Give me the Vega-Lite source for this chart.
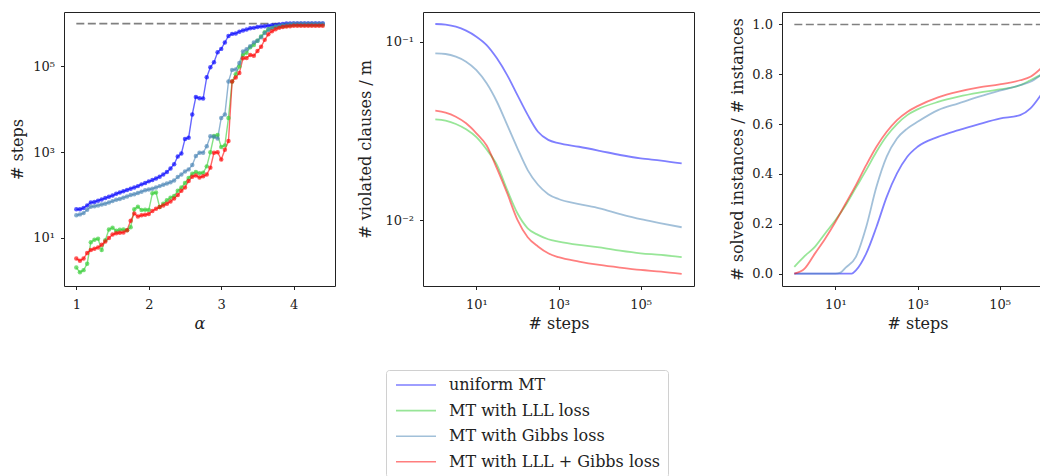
{
"$schema": "https://vega.github.io/schema/vega-lite/v6.json",
"padding": {"left": 8, "top": 11, "right": 0, "bottom": 0},
"bounds": "flush",
"spacing": 88,
"config": {
  "font": "DejaVu Serif",
  "view": {"stroke": "#222", "strokeWidth": 1},
  "axis": {"grid": false, "domain": false, "tickColor": "#222", "tickSize": 3.5, "tickWidth": 1, "labelFont": "DejaVu Serif", "labelFontSize": 13, "labelColor": "#222", "titleFont": "DejaVu Serif", "titleFontSize": 16, "titleFontWeight": "normal", "titleColor": "#222"},
  "axisX": {"labelPadding": 9, "titlePadding": 4},
  "axisY": {"labelPadding": 6},
  "legend": {"symbolType": "M-4,0H4", "symbolStrokeWidth": 1.6, "symbolOpacity": 0.5, "symbolSize": 100, "symbolOffset": 15, "labelFont": "DejaVu Serif", "labelFontSize": 16, "labelColor": "#222", "labelOffset": 25, "labelLimit": 400, "rowPadding": 9.6, "padding": 7, "strokeColor": "#d0d0d0", "cornerRadius": 3, "fillColor": "white"}
},
"datasets": {
  "cap1": [{"a": 1, "a2": 4.4, "v": 1000000}],
  "cap3": [{"x": 1, "x2": 1000000, "v": 1.0}],
  "p1": [
{"m":"uniform MT","a":1.00,"v":46.8},{"m":"uniform MT","a":1.05,"v":46.8},{"m":"uniform MT","a":1.10,"v":50.1},{"m":"uniform MT","a":1.15,"v":57.5},{"m":"uniform MT","a":1.20,"v":67.6},{"m":"uniform MT","a":1.25,"v":69.2},{"m":"uniform MT","a":1.30,"v":74.1},{"m":"uniform MT","a":1.35,"v":79.4},{"m":"uniform MT","a":1.40,"v":85.1},{"m":"uniform MT","a":1.45,"v":91.2},{"m":"uniform MT","a":1.50,"v":97.7},{"m":"uniform MT","a":1.55,"v":107},{"m":"uniform MT","a":1.60,"v":115},{"m":"uniform MT","a":1.65,"v":123},{"m":"uniform MT","a":1.70,"v":132},{"m":"uniform MT","a":1.75,"v":141},{"m":"uniform MT","a":1.80,"v":151},{"m":"uniform MT","a":1.85,"v":162},{"m":"uniform MT","a":1.90,"v":178},{"m":"uniform MT","a":1.95,"v":191},{"m":"uniform MT","a":2.00,"v":209},{"m":"uniform MT","a":2.05,"v":224},{"m":"uniform MT","a":2.10,"v":245},{"m":"uniform MT","a":2.15,"v":269},{"m":"uniform MT","a":2.20,"v":302},{"m":"uniform MT","a":2.25,"v":347},{"m":"uniform MT","a":2.30,"v":417},{"m":"uniform MT","a":2.35,"v":525},{"m":"uniform MT","a":2.40,"v":794},{"m":"uniform MT","a":2.45,"v":933},{"m":"uniform MT","a":2.50,"v":2042},{"m":"uniform MT","a":2.55,"v":2188},{"m":"uniform MT","a":2.60,"v":7586},{"m":"uniform MT","a":2.65,"v":19500},{"m":"uniform MT","a":2.70,"v":18200},{"m":"uniform MT","a":2.75,"v":17800},{"m":"uniform MT","a":2.80,"v":56200},{"m":"uniform MT","a":2.85,"v":95500},{"m":"uniform MT","a":2.90,"v":126000},{"m":"uniform MT","a":2.95,"v":214000},{"m":"uniform MT","a":3.00,"v":257000},{"m":"uniform MT","a":3.05,"v":363000},{"m":"uniform MT","a":3.10,"v":513000},{"m":"uniform MT","a":3.15,"v":575000},{"m":"uniform MT","a":3.20,"v":589000},{"m":"uniform MT","a":3.25,"v":646000},{"m":"uniform MT","a":3.30,"v":692000},{"m":"uniform MT","a":3.35,"v":724000},{"m":"uniform MT","a":3.40,"v":776000},{"m":"uniform MT","a":3.45,"v":794000},{"m":"uniform MT","a":3.50,"v":832000},{"m":"uniform MT","a":3.55,"v":851000},{"m":"uniform MT","a":3.60,"v":871000},{"m":"uniform MT","a":3.65,"v":891000},{"m":"uniform MT","a":3.70,"v":912000},{"m":"uniform MT","a":3.75,"v":933000},{"m":"uniform MT","a":3.80,"v":955000},{"m":"uniform MT","a":3.85,"v":977000},{"m":"uniform MT","a":3.90,"v":1000000},{"m":"uniform MT","a":3.95,"v":1000000},{"m":"uniform MT","a":4.00,"v":1000000},{"m":"uniform MT","a":4.05,"v":1000000},{"m":"uniform MT","a":4.10,"v":1000000},{"m":"uniform MT","a":4.15,"v":1000000},{"m":"uniform MT","a":4.20,"v":1000000},{"m":"uniform MT","a":4.25,"v":1000000},{"m":"uniform MT","a":4.30,"v":1000000},{"m":"uniform MT","a":4.35,"v":1000000},{"m":"uniform MT","a":4.40,"v":1000000},
{"m":"MT with LLL loss","a":1.00,"v":2.04},{"m":"MT with LLL loss","a":1.05,"v":1.58},{"m":"MT with LLL loss","a":1.10,"v":1.78},{"m":"MT with LLL loss","a":1.15,"v":2.51},{"m":"MT with LLL loss","a":1.20,"v":7.94},{"m":"MT with LLL loss","a":1.25,"v":9.12},{"m":"MT with LLL loss","a":1.30,"v":9.55},{"m":"MT with LLL loss","a":1.35,"v":5.25},{"m":"MT with LLL loss","a":1.40,"v":8.91},{"m":"MT with LLL loss","a":1.45,"v":15.8},{"m":"MT with LLL loss","a":1.50,"v":17.4},{"m":"MT with LLL loss","a":1.55,"v":14.8},{"m":"MT with LLL loss","a":1.60,"v":15.5},{"m":"MT with LLL loss","a":1.65,"v":15.8},{"m":"MT with LLL loss","a":1.70,"v":15.1},{"m":"MT with LLL loss","a":1.75,"v":17.8},{"m":"MT with LLL loss","a":1.80,"v":46.8},{"m":"MT with LLL loss","a":1.85,"v":53.7},{"m":"MT with LLL loss","a":1.90,"v":44.7},{"m":"MT with LLL loss","a":1.95,"v":45.7},{"m":"MT with LLL loss","a":2.00,"v":44.7},{"m":"MT with LLL loss","a":2.05,"v":110},{"m":"MT with LLL loss","a":2.10,"v":115},{"m":"MT with LLL loss","a":2.15,"v":52.5},{"m":"MT with LLL loss","a":2.20,"v":63.1},{"m":"MT with LLL loss","a":2.25,"v":75.9},{"m":"MT with LLL loss","a":2.30,"v":87.1},{"m":"MT with LLL loss","a":2.35,"v":95.5},{"m":"MT with LLL loss","a":2.40,"v":126},{"m":"MT with LLL loss","a":2.45,"v":151},{"m":"MT with LLL loss","a":2.50,"v":191},{"m":"MT with LLL loss","a":2.55,"v":251},{"m":"MT with LLL loss","a":2.60,"v":316},{"m":"MT with LLL loss","a":2.65,"v":347},{"m":"MT with LLL loss","a":2.70,"v":324},{"m":"MT with LLL loss","a":2.75,"v":331},{"m":"MT with LLL loss","a":2.80,"v":468},{"m":"MT with LLL loss","a":2.85,"v":1000},{"m":"MT with LLL loss","a":2.90,"v":2399},{"m":"MT with LLL loss","a":2.95,"v":2512},{"m":"MT with LLL loss","a":3.00,"v":1318},{"m":"MT with LLL loss","a":3.05,"v":1445},{"m":"MT with LLL loss","a":3.10,"v":6310},{"m":"MT with LLL loss","a":3.15,"v":44700},{"m":"MT with LLL loss","a":3.20,"v":66100},{"m":"MT with LLL loss","a":3.25,"v":100000},{"m":"MT with LLL loss","a":3.30,"v":186000},{"m":"MT with LLL loss","a":3.35,"v":209000},{"m":"MT with LLL loss","a":3.40,"v":282000},{"m":"MT with LLL loss","a":3.45,"v":316000},{"m":"MT with LLL loss","a":3.50,"v":398000},{"m":"MT with LLL loss","a":3.55,"v":501000},{"m":"MT with LLL loss","a":3.60,"v":631000},{"m":"MT with LLL loss","a":3.65,"v":741000},{"m":"MT with LLL loss","a":3.70,"v":794000},{"m":"MT with LLL loss","a":3.75,"v":832000},{"m":"MT with LLL loss","a":3.80,"v":851000},{"m":"MT with LLL loss","a":3.85,"v":871000},{"m":"MT with LLL loss","a":3.90,"v":891000},{"m":"MT with LLL loss","a":3.95,"v":912000},{"m":"MT with LLL loss","a":4.00,"v":933000},{"m":"MT with LLL loss","a":4.05,"v":933000},{"m":"MT with LLL loss","a":4.10,"v":933000},{"m":"MT with LLL loss","a":4.15,"v":933000},{"m":"MT with LLL loss","a":4.20,"v":933000},{"m":"MT with LLL loss","a":4.25,"v":933000},{"m":"MT with LLL loss","a":4.30,"v":933000},{"m":"MT with LLL loss","a":4.35,"v":933000},{"m":"MT with LLL loss","a":4.40,"v":933000},
{"m":"MT with Gibbs loss","a":1.00,"v":33.9},{"m":"MT with Gibbs loss","a":1.05,"v":35.5},{"m":"MT with Gibbs loss","a":1.10,"v":38.0},{"m":"MT with Gibbs loss","a":1.15,"v":45.7},{"m":"MT with Gibbs loss","a":1.20,"v":53.7},{"m":"MT with Gibbs loss","a":1.25,"v":55.0},{"m":"MT with Gibbs loss","a":1.30,"v":57.5},{"m":"MT with Gibbs loss","a":1.35,"v":60.3},{"m":"MT with Gibbs loss","a":1.40,"v":63.1},{"m":"MT with Gibbs loss","a":1.45,"v":67.6},{"m":"MT with Gibbs loss","a":1.50,"v":72.4},{"m":"MT with Gibbs loss","a":1.55,"v":77.6},{"m":"MT with Gibbs loss","a":1.60,"v":81.3},{"m":"MT with Gibbs loss","a":1.65,"v":87.1},{"m":"MT with Gibbs loss","a":1.70,"v":93.3},{"m":"MT with Gibbs loss","a":1.75,"v":100},{"m":"MT with Gibbs loss","a":1.80,"v":105},{"m":"MT with Gibbs loss","a":1.85,"v":112},{"m":"MT with Gibbs loss","a":1.90,"v":120},{"m":"MT with Gibbs loss","a":1.95,"v":129},{"m":"MT with Gibbs loss","a":2.00,"v":135},{"m":"MT with Gibbs loss","a":2.05,"v":141},{"m":"MT with Gibbs loss","a":2.10,"v":151},{"m":"MT with Gibbs loss","a":2.15,"v":162},{"m":"MT with Gibbs loss","a":2.20,"v":174},{"m":"MT with Gibbs loss","a":2.25,"v":186},{"m":"MT with Gibbs loss","a":2.30,"v":200},{"m":"MT with Gibbs loss","a":2.35,"v":219},{"m":"MT with Gibbs loss","a":2.40,"v":263},{"m":"MT with Gibbs loss","a":2.45,"v":302},{"m":"MT with Gibbs loss","a":2.50,"v":355},{"m":"MT with Gibbs loss","a":2.55,"v":398},{"m":"MT with Gibbs loss","a":2.60,"v":501},{"m":"MT with Gibbs loss","a":2.65,"v":813},{"m":"MT with Gibbs loss","a":2.70,"v":977},{"m":"MT with Gibbs loss","a":2.75,"v":977},{"m":"MT with Gibbs loss","a":2.80,"v":1380},{"m":"MT with Gibbs loss","a":2.85,"v":2344},{"m":"MT with Gibbs loss","a":2.90,"v":2291},{"m":"MT with Gibbs loss","a":2.95,"v":2089},{"m":"MT with Gibbs loss","a":3.00,"v":6310},{"m":"MT with Gibbs loss","a":3.05,"v":7586},{"m":"MT with Gibbs loss","a":3.10,"v":44700},{"m":"MT with Gibbs loss","a":3.15,"v":83200},{"m":"MT with Gibbs loss","a":3.20,"v":85100},{"m":"MT with Gibbs loss","a":3.25,"v":120000},{"m":"MT with Gibbs loss","a":3.30,"v":224000},{"m":"MT with Gibbs loss","a":3.35,"v":251000},{"m":"MT with Gibbs loss","a":3.40,"v":295000},{"m":"MT with Gibbs loss","a":3.45,"v":363000},{"m":"MT with Gibbs loss","a":3.50,"v":398000},{"m":"MT with Gibbs loss","a":3.55,"v":479000},{"m":"MT with Gibbs loss","a":3.60,"v":603000},{"m":"MT with Gibbs loss","a":3.65,"v":708000},{"m":"MT with Gibbs loss","a":3.70,"v":794000},{"m":"MT with Gibbs loss","a":3.75,"v":851000},{"m":"MT with Gibbs loss","a":3.80,"v":891000},{"m":"MT with Gibbs loss","a":3.85,"v":933000},{"m":"MT with Gibbs loss","a":3.90,"v":955000},{"m":"MT with Gibbs loss","a":3.95,"v":977000},{"m":"MT with Gibbs loss","a":4.00,"v":1000000},{"m":"MT with Gibbs loss","a":4.05,"v":1000000},{"m":"MT with Gibbs loss","a":4.10,"v":1000000},{"m":"MT with Gibbs loss","a":4.15,"v":1000000},{"m":"MT with Gibbs loss","a":4.20,"v":1000000},{"m":"MT with Gibbs loss","a":4.25,"v":1000000},{"m":"MT with Gibbs loss","a":4.30,"v":1000000},{"m":"MT with Gibbs loss","a":4.35,"v":1000000},{"m":"MT with Gibbs loss","a":4.40,"v":1000000},
{"m":"MT with LLL + Gibbs loss","a":1.00,"v":3.31},{"m":"MT with LLL + Gibbs loss","a":1.05,"v":2.95},{"m":"MT with LLL + Gibbs loss","a":1.10,"v":3.31},{"m":"MT with LLL + Gibbs loss","a":1.15,"v":4.47},{"m":"MT with LLL + Gibbs loss","a":1.20,"v":5.25},{"m":"MT with LLL + Gibbs loss","a":1.25,"v":5.62},{"m":"MT with LLL + Gibbs loss","a":1.30,"v":6.03},{"m":"MT with LLL + Gibbs loss","a":1.35,"v":6.92},{"m":"MT with LLL + Gibbs loss","a":1.40,"v":8.32},{"m":"MT with LLL + Gibbs loss","a":1.45,"v":10.0},{"m":"MT with LLL + Gibbs loss","a":1.50,"v":12.0},{"m":"MT with LLL + Gibbs loss","a":1.55,"v":12.9},{"m":"MT with LLL + Gibbs loss","a":1.60,"v":13.2},{"m":"MT with LLL + Gibbs loss","a":1.65,"v":13.5},{"m":"MT with LLL + Gibbs loss","a":1.70,"v":15.1},{"m":"MT with LLL + Gibbs loss","a":1.75,"v":25.1},{"m":"MT with LLL + Gibbs loss","a":1.80,"v":37.2},{"m":"MT with LLL + Gibbs loss","a":1.85,"v":31.6},{"m":"MT with LLL + Gibbs loss","a":1.90,"v":33.9},{"m":"MT with LLL + Gibbs loss","a":1.95,"v":34.7},{"m":"MT with LLL + Gibbs loss","a":2.00,"v":36.3},{"m":"MT with LLL + Gibbs loss","a":2.05,"v":42.7},{"m":"MT with LLL + Gibbs loss","a":2.10,"v":47.9},{"m":"MT with LLL + Gibbs loss","a":2.15,"v":52.5},{"m":"MT with LLL + Gibbs loss","a":2.20,"v":57.5},{"m":"MT with LLL + Gibbs loss","a":2.25,"v":63.1},{"m":"MT with LLL + Gibbs loss","a":2.30,"v":70.8},{"m":"MT with LLL + Gibbs loss","a":2.35,"v":83.2},{"m":"MT with LLL + Gibbs loss","a":2.40,"v":100},{"m":"MT with LLL + Gibbs loss","a":2.45,"v":126},{"m":"MT with LLL + Gibbs loss","a":2.50,"v":151},{"m":"MT with LLL + Gibbs loss","a":2.55,"v":214},{"m":"MT with LLL + Gibbs loss","a":2.60,"v":269},{"m":"MT with LLL + Gibbs loss","a":2.65,"v":288},{"m":"MT with LLL + Gibbs loss","a":2.70,"v":257},{"m":"MT with LLL + Gibbs loss","a":2.75,"v":275},{"m":"MT with LLL + Gibbs loss","a":2.80,"v":302},{"m":"MT with LLL + Gibbs loss","a":2.85,"v":437},{"m":"MT with LLL + Gibbs loss","a":2.90,"v":977},{"m":"MT with LLL + Gibbs loss","a":2.95,"v":1000},{"m":"MT with LLL + Gibbs loss","a":3.00,"v":676},{"m":"MT with LLL + Gibbs loss","a":3.05,"v":1148},{"m":"MT with LLL + Gibbs loss","a":3.10,"v":1820},{"m":"MT with LLL + Gibbs loss","a":3.15,"v":44700},{"m":"MT with LLL + Gibbs loss","a":3.20,"v":55000},{"m":"MT with LLL + Gibbs loss","a":3.25,"v":70800},{"m":"MT with LLL + Gibbs loss","a":3.30,"v":155000},{"m":"MT with LLL + Gibbs loss","a":3.35,"v":158000},{"m":"MT with LLL + Gibbs loss","a":3.40,"v":186000},{"m":"MT with LLL + Gibbs loss","a":3.45,"v":178000},{"m":"MT with LLL + Gibbs loss","a":3.50,"v":229000},{"m":"MT with LLL + Gibbs loss","a":3.55,"v":288000},{"m":"MT with LLL + Gibbs loss","a":3.60,"v":417000},{"m":"MT with LLL + Gibbs loss","a":3.65,"v":562000},{"m":"MT with LLL + Gibbs loss","a":3.70,"v":661000},{"m":"MT with LLL + Gibbs loss","a":3.75,"v":741000},{"m":"MT with LLL + Gibbs loss","a":3.80,"v":794000},{"m":"MT with LLL + Gibbs loss","a":3.85,"v":832000},{"m":"MT with LLL + Gibbs loss","a":3.90,"v":851000},{"m":"MT with LLL + Gibbs loss","a":3.95,"v":871000},{"m":"MT with LLL + Gibbs loss","a":4.00,"v":891000},{"m":"MT with LLL + Gibbs loss","a":4.05,"v":891000},{"m":"MT with LLL + Gibbs loss","a":4.10,"v":891000},{"m":"MT with LLL + Gibbs loss","a":4.15,"v":891000},{"m":"MT with LLL + Gibbs loss","a":4.20,"v":891000},{"m":"MT with LLL + Gibbs loss","a":4.25,"v":891000},{"m":"MT with LLL + Gibbs loss","a":4.30,"v":891000},{"m":"MT with LLL + Gibbs loss","a":4.35,"v":891000},{"m":"MT with LLL + Gibbs loss","a":4.40,"v":891000}
  ],
  "p2": [
{"m":"uniform MT","x":1,"v":0.1256},{"m":"uniform MT","x":1.778,"v":0.1245},{"m":"uniform MT","x":3.162,"v":0.1213},{"m":"uniform MT","x":5.623,"v":0.1153},{"m":"uniform MT","x":10,"v":0.1067},{"m":"uniform MT","x":17.78,"v":0.0957},{"m":"uniform MT","x":31.62,"v":0.0807},{"m":"uniform MT","x":56.23,"v":0.0650},{"m":"uniform MT","x":100,"v":0.0502},{"m":"uniform MT","x":177.8,"v":0.0389},{"m":"uniform MT","x":316.2,"v":0.0313},{"m":"uniform MT","x":562.3,"v":0.0282},{"m":"uniform MT","x":1000,"v":0.0270},{"m":"uniform MT","x":3162,"v":0.0258},{"m":"uniform MT","x":10000,"v":0.0245},{"m":"uniform MT","x":31623,"v":0.0232},{"m":"uniform MT","x":100000,"v":0.0222},{"m":"uniform MT","x":316228,"v":0.0216},{"m":"uniform MT","x":1000000,"v":0.0208},
{"m":"MT with LLL loss","x":1,"v":0.0367},{"m":"MT with LLL loss","x":1.778,"v":0.0361},{"m":"MT with LLL loss","x":3.162,"v":0.0346},{"m":"MT with LLL loss","x":5.623,"v":0.0323},{"m":"MT with LLL loss","x":10,"v":0.0292},{"m":"MT with LLL loss","x":17.78,"v":0.0249},{"m":"MT with LLL loss","x":31.62,"v":0.0204},{"m":"MT with LLL loss","x":56.23,"v":0.01479},{"m":"MT with LLL loss","x":100,"v":0.01094},{"m":"MT with LLL loss","x":177.8,"v":0.00902},{"m":"MT with LLL loss","x":316.2,"v":0.00828},{"m":"MT with LLL loss","x":562.3,"v":0.00783},{"m":"MT with LLL loss","x":1000,"v":0.00760},{"m":"MT with LLL loss","x":3162,"v":0.00728},{"m":"MT with LLL loss","x":10000,"v":0.00706},{"m":"MT with LLL loss","x":31623,"v":0.00676},{"m":"MT with LLL loss","x":100000,"v":0.00653},{"m":"MT with LLL loss","x":316228,"v":0.00640},{"m":"MT with LLL loss","x":1000000,"v":0.00621},
{"m":"MT with Gibbs loss","x":1,"v":0.0861},{"m":"MT with Gibbs loss","x":1.778,"v":0.0853},{"m":"MT with Gibbs loss","x":3.162,"v":0.0824},{"m":"MT with Gibbs loss","x":5.623,"v":0.0773},{"m":"MT with Gibbs loss","x":10,"v":0.0693},{"m":"MT with Gibbs loss","x":17.78,"v":0.0585},{"m":"MT with Gibbs loss","x":31.62,"v":0.0461},{"m":"MT with Gibbs loss","x":56.23,"v":0.0342},{"m":"MT with Gibbs loss","x":100,"v":0.0253},{"m":"MT with Gibbs loss","x":177.8,"v":0.0191},{"m":"MT with Gibbs loss","x":316.2,"v":0.0158},{"m":"MT with Gibbs loss","x":562.3,"v":0.0140},{"m":"MT with Gibbs loss","x":1000,"v":0.01315},{"m":"MT with Gibbs loss","x":3162,"v":0.01233},{"m":"MT with Gibbs loss","x":10000,"v":0.01167},{"m":"MT with Gibbs loss","x":31623,"v":0.01084},{"m":"MT with Gibbs loss","x":100000,"v":0.01014},{"m":"MT with Gibbs loss","x":316228,"v":0.00962},{"m":"MT with Gibbs loss","x":1000000,"v":0.00914},
{"m":"MT with LLL + Gibbs loss","x":1,"v":0.0411},{"m":"MT with LLL + Gibbs loss","x":1.778,"v":0.0401},{"m":"MT with LLL + Gibbs loss","x":3.162,"v":0.0380},{"m":"MT with LLL + Gibbs loss","x":5.623,"v":0.0349},{"m":"MT with LLL + Gibbs loss","x":10,"v":0.0307},{"m":"MT with LLL + Gibbs loss","x":17.78,"v":0.0262},{"m":"MT with LLL + Gibbs loss","x":31.62,"v":0.0195},{"m":"MT with LLL + Gibbs loss","x":56.23,"v":0.01416},{"m":"MT with LLL + Gibbs loss","x":100,"v":0.01005},{"m":"MT with LLL + Gibbs loss","x":177.8,"v":0.00804},{"m":"MT with LLL + Gibbs loss","x":316.2,"v":0.00713},{"m":"MT with LLL + Gibbs loss","x":562.3,"v":0.00653},{"m":"MT with LLL + Gibbs loss","x":1000,"v":0.00621},{"m":"MT with LLL + Gibbs loss","x":3162,"v":0.00587},{"m":"MT with LLL + Gibbs loss","x":10000,"v":0.00562},{"m":"MT with LLL + Gibbs loss","x":31623,"v":0.00543},{"m":"MT with LLL + Gibbs loss","x":100000,"v":0.00527},{"m":"MT with LLL + Gibbs loss","x":316228,"v":0.00516},{"m":"MT with LLL + Gibbs loss","x":1000000,"v":0.00501}
  ],
  "p3": [
{"m":"uniform MT","x":1,"v":0},{"m":"uniform MT","x":1.778,"v":0},{"m":"uniform MT","x":3.162,"v":0},{"m":"uniform MT","x":5.623,"v":0},{"m":"uniform MT","x":10,"v":0},{"m":"uniform MT","x":17.78,"v":0},{"m":"uniform MT","x":25.1,"v":0},{"m":"uniform MT","x":31.62,"v":0.013},{"m":"uniform MT","x":56.23,"v":0.080},{"m":"uniform MT","x":100,"v":0.187},{"m":"uniform MT","x":177.8,"v":0.308},{"m":"uniform MT","x":316.2,"v":0.402},{"m":"uniform MT","x":562.3,"v":0.469},{"m":"uniform MT","x":1000,"v":0.509},{"m":"uniform MT","x":3162,"v":0.549},{"m":"uniform MT","x":10000,"v":0.576},{"m":"uniform MT","x":31623,"v":0.600},{"m":"uniform MT","x":100000,"v":0.622},{"m":"uniform MT","x":316228,"v":0.636},{"m":"uniform MT","x":562341,"v":0.663},{"m":"uniform MT","x":1000000,"v":0.716},
{"m":"MT with LLL loss","x":1,"v":0.027},{"m":"MT with LLL loss","x":1.778,"v":0.070},{"m":"MT with LLL loss","x":3.162,"v":0.107},{"m":"MT with LLL loss","x":5.623,"v":0.161},{"m":"MT with LLL loss","x":10,"v":0.214},{"m":"MT with LLL loss","x":17.78,"v":0.274},{"m":"MT with LLL loss","x":31.62,"v":0.345},{"m":"MT with LLL loss","x":56.23,"v":0.415},{"m":"MT with LLL loss","x":100,"v":0.489},{"m":"MT with LLL loss","x":177.8,"v":0.552},{"m":"MT with LLL loss","x":316.2,"v":0.600},{"m":"MT with LLL loss","x":562.3,"v":0.636},{"m":"MT with LLL loss","x":1000,"v":0.659},{"m":"MT with LLL loss","x":3162,"v":0.689},{"m":"MT with LLL loss","x":10000,"v":0.710},{"m":"MT with LLL loss","x":31623,"v":0.726},{"m":"MT with LLL loss","x":100000,"v":0.739},{"m":"MT with LLL loss","x":316228,"v":0.756},{"m":"MT with LLL loss","x":562341,"v":0.776},{"m":"MT with LLL loss","x":1000000,"v":0.797},
{"m":"MT with Gibbs loss","x":1,"v":0},{"m":"MT with Gibbs loss","x":1.778,"v":0},{"m":"MT with Gibbs loss","x":3.162,"v":0},{"m":"MT with Gibbs loss","x":5.623,"v":0},{"m":"MT with Gibbs loss","x":10,"v":0},{"m":"MT with Gibbs loss","x":13.3,"v":0.004},{"m":"MT with Gibbs loss","x":17.78,"v":0.024},{"m":"MT with Gibbs loss","x":31.62,"v":0.067},{"m":"MT with Gibbs loss","x":56.23,"v":0.187},{"m":"MT with Gibbs loss","x":100,"v":0.348},{"m":"MT with Gibbs loss","x":177.8,"v":0.469},{"m":"MT with Gibbs loss","x":316.2,"v":0.542},{"m":"MT with Gibbs loss","x":562.3,"v":0.582},{"m":"MT with Gibbs loss","x":1000,"v":0.609},{"m":"MT with Gibbs loss","x":3162,"v":0.656},{"m":"MT with Gibbs loss","x":10000,"v":0.683},{"m":"MT with Gibbs loss","x":31623,"v":0.710},{"m":"MT with Gibbs loss","x":100000,"v":0.734},{"m":"MT with Gibbs loss","x":316228,"v":0.756},{"m":"MT with Gibbs loss","x":562341,"v":0.770},{"m":"MT with Gibbs loss","x":1000000,"v":0.797},
{"m":"MT with LLL + Gibbs loss","x":1,"v":0},{"m":"MT with LLL + Gibbs loss","x":1.778,"v":0.020},{"m":"MT with LLL + Gibbs loss","x":3.162,"v":0.080},{"m":"MT with LLL + Gibbs loss","x":5.623,"v":0.140},{"m":"MT with LLL + Gibbs loss","x":10,"v":0.207},{"m":"MT with LLL + Gibbs loss","x":17.78,"v":0.281},{"m":"MT with LLL + Gibbs loss","x":31.62,"v":0.355},{"m":"MT with LLL + Gibbs loss","x":56.23,"v":0.435},{"m":"MT with LLL + Gibbs loss","x":100,"v":0.509},{"m":"MT with LLL + Gibbs loss","x":177.8,"v":0.569},{"m":"MT with LLL + Gibbs loss","x":316.2,"v":0.616},{"m":"MT with LLL + Gibbs loss","x":562.3,"v":0.649},{"m":"MT with LLL + Gibbs loss","x":1000,"v":0.672},{"m":"MT with LLL + Gibbs loss","x":3162,"v":0.707},{"m":"MT with LLL + Gibbs loss","x":10000,"v":0.730},{"m":"MT with LLL + Gibbs loss","x":31623,"v":0.747},{"m":"MT with LLL + Gibbs loss","x":100000,"v":0.759},{"m":"MT with LLL + Gibbs loss","x":316228,"v":0.776},{"m":"MT with LLL + Gibbs loss","x":562341,"v":0.790},{"m":"MT with LLL + Gibbs loss","x":1000000,"v":0.823}
  ]
},
"hconcat": [
  {
    "width": 271, "height": 274,
    "layer": [
      {"data": {"name": "cap1"}, "mark": {"type": "rule", "color": "#808080", "strokeWidth": 1.6, "strokeDash": [8, 3.5]},
       "encoding": {"x": {"field": "a", "type": "quantitative"}, "x2": {"field": "a2"}, "y": {"field": "v", "type": "quantitative"}}},
      {"data": {"name": "p1"}, "mark": {"type": "line", "strokeWidth": 1.4, "opacity": 0.6},
       "encoding": {
         "x": {"field": "a", "type": "quantitative", "scale": {"domain": [0.83, 4.57], "nice": false, "zero": false}, "axis": {"title": "α", "titleFontStyle": "italic", "values": [1, 2, 3, 4], "format": "d"}},
         "y": {"field": "v", "type": "quantitative", "scale": {"type": "log", "domain": [0.759, 1862000], "nice": false}, "axis": {"title": "# steps", "values": [10, 1000, 100000], "labelExpr": "datum.value == 10 ? '10¹' : datum.value == 1000 ? '10³' : '10⁵'", "titleX": -47, "titleBaseline": "middle"}},
         "color": {"field": "m", "type": "nominal", "scale": {"domain": ["uniform MT", "MT with LLL loss", "MT with Gibbs loss", "MT with LLL + Gibbs loss"], "range": ["#0000ff", "#32cd32", "#4682b4", "#ff0000"]}, "legend": {"title": null, "orient": "none", "legendX": 322, "legendY": 358, "symbolType": "M-4,0H4"}}}},
      {"data": {"name": "p1"}, "mark": {"type": "point", "filled": true, "size": 20, "opacity": 0.65},
       "encoding": {
         "x": {"field": "a", "type": "quantitative"},
         "y": {"field": "v", "type": "quantitative"},
         "color": {"field": "m", "type": "nominal", "legend": {"title": null, "orient": "none", "legendX": 322, "legendY": 358, "symbolType": "M-4,0H4"}}}}
    ]
  },
  {
    "width": 271, "height": 274,
    "data": {"name": "p2"},
    "mark": {"type": "line", "strokeWidth": 1.8, "opacity": 0.5, "interpolate": "monotone"},
    "encoding": {
      "x": {"field": "x", "type": "quantitative", "scale": {"type": "log", "domain": [0.501, 1995000], "nice": false}, "axis": {"title": "# steps", "values": [10, 1000, 100000], "labelExpr": "datum.value == 10 ? '10¹' : datum.value == 1000 ? '10³' : '10⁵'"}},
      "y": {"field": "v", "type": "quantitative", "scale": {"type": "log", "domain": [0.004285, 0.1466], "nice": false}, "axis": {"title": "# violated clauses / m", "values": [0.01, 0.1], "labelExpr": "datum.value < 0.05 ? '10⁻²' : '10⁻¹'", "titleX": -58, "titleBaseline": "middle"}},
      "color": {"field": "m", "type": "nominal", "legend": {"title": null, "orient": "none", "legendX": 322, "legendY": 358, "symbolType": "M-4,0H4"}}
    }
  },
  {
    "width": 271, "height": 274,
    "layer": [
      {"data": {"name": "cap3"}, "mark": {"type": "rule", "color": "#808080", "strokeWidth": 1.6, "strokeDash": [8, 3.5]},
       "encoding": {"x": {"field": "x", "type": "quantitative"}, "x2": {"field": "x2"}, "y": {"field": "v", "type": "quantitative"}}},
      {"data": {"name": "p3"}, "mark": {"type": "line", "strokeWidth": 1.8, "opacity": 0.5, "interpolate": "monotone"},
       "encoding": {
         "x": {"field": "x", "type": "quantitative", "scale": {"type": "log", "domain": [0.501, 1995000], "nice": false}, "axis": {"title": "# steps", "values": [10, 1000, 100000], "labelExpr": "datum.value == 10 ? '10¹' : datum.value == 1000 ? '10³' : '10⁵'"}},
         "y": {"field": "v", "type": "quantitative", "scale": {"domain": [-0.05, 1.05], "nice": false, "zero": false}, "axis": {"title": "# solved instances / # instances", "values": [0, 0.2, 0.4, 0.6, 0.8, 1.0], "format": ".1f", "titleX": -45, "titleBaseline": "middle"}},
         "color": {"field": "m", "type": "nominal", "legend": {"title": null, "orient": "none", "legendX": 322, "legendY": 358, "symbolType": "M-4,0H4"}}}}
    ]
  }
]
}
